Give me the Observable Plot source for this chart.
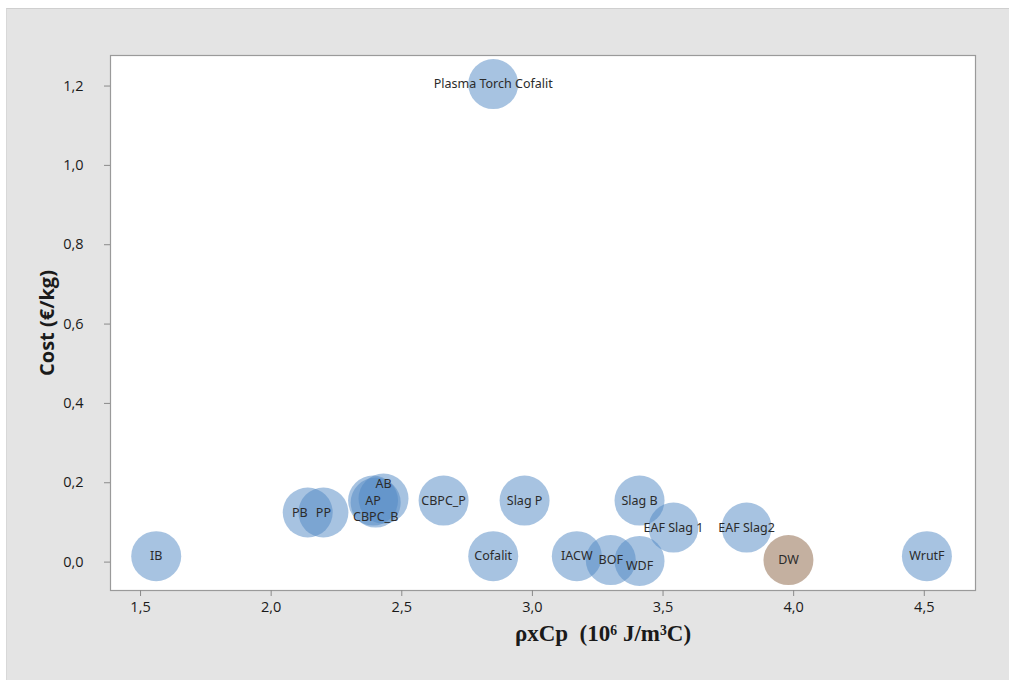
<!DOCTYPE html>
<html>
<head>
<meta charset="utf-8">
<script src="https://cdn.jsdelivr.net/npm/d3@7"></script>
<script src="https://cdn.jsdelivr.net/npm/@observablehq/plot@0.6"></script>
<style>
  html, body { margin: 0; padding: 0; background: #ffffff; }
  #page { position: absolute; left: 0; top: 0; width: 1009px; height: 680px; overflow: hidden; }
  #bg { position: absolute; left: 6px; top: 8px; right: 0; bottom: 0; background: #e4e4e4; border-top: 1px solid #cfcfcf; border-left: 1px solid #d8d8d8; }
  #chart { position: absolute; left: 0; top: 0; }
</style>
</head>
<body>
<div id="page"><div id="bg"></div><div id="chart"></div></div>
<script>
// ---- data ----
const names = ["IB","PB","PP","AP","AB","CBPC_B","CBPC_P","Cofalit","Slag P","IACW","BOF","WDF","Slag B","EAF Slag 1","EAF Slag2","DW","WrutF","Plasma Torch Cofalit"];
const heatCapacity = [1.56, 2.14, 2.20, 2.39, 2.43, 2.40, 2.66, 2.85, 2.97, 3.17, 3.30, 3.41, 3.41, 3.54, 3.82, 3.98, 4.51, 2.85];
const cost = [0.015, 0.125, 0.125, 0.155, 0.16, 0.15, 0.155, 0.015, 0.155, 0.015, 0.005, 0.003, 0.155, 0.087, 0.087, 0.005, 0.015, 1.205];
const highlighted = ["DW"];
const xTicks = [1.5, 2.0, 2.5, 3.0, 3.5, 4.0, 4.5];
const yTicks = [0, 0.2, 0.4, 0.6, 0.8, 1.0, 1.2];
const xLabel = "ρxCp\u00a0 (10⁶ J/m³C)";
const yLabel = "Cost (€/kg)";

const data = names.map((n, i) => ({ name: n, x: heatCapacity[i], y: cost[i] }));
const fmt = d => d.toFixed(1).replace(".", ",");
const labelFont = "'Noto Sans', 'Open Sans', sans-serif";
const above = ["AB"], below = ["CBPC_B"], slightlyBelow = ["WDF"], leftShift = ["PB"];
const special = [...above, ...below, ...slightlyBelow, ...leftShift];
const plain = data.filter(d => !special.includes(d.name));

const textOpts = { x: "x", y: "y", text: "name", fontSize: 12.5, fill: "#2b2b2b", fontFamily: labelFont };

const chart = Plot.plot({
  width: 1009,
  height: 680,
  marginLeft: 110,
  marginRight: 34,
  marginTop: 55,
  marginBottom: 90,
  style: { background: "transparent", overflow: "visible" },
  x: { domain: [1.385, 4.696] },
  y: { domain: [-0.0716, 1.277] },
  marks: [
    Plot.frame({ fill: "white", stroke: null }),
    Plot.dot(data, {
      x: "x", y: "y", r: 25,
      fill: d => highlighted.includes(d.name) ? "#8a6242" : "#4f87c4",
      fillOpacity: 0.5, stroke: null
    }),
    Plot.text(plain, textOpts),
    Plot.text(data.filter(d => above.includes(d.name)), { ...textOpts, dy: -15 }),
    Plot.text(data.filter(d => below.includes(d.name)), { ...textOpts, dy: 14 }),
    Plot.text(data.filter(d => slightlyBelow.includes(d.name)), { ...textOpts, dy: 5 }),
    Plot.text(data.filter(d => leftShift.includes(d.name)), { ...textOpts, dx: -8 }),
    Plot.frame({ stroke: "#9a9a9a", strokeWidth: 1.2 }),
    Plot.axisX({ ticks: xTicks, tickFormat: fmt, tickSize: 6, tickPadding: 5, stroke: "#8a8a8a", fill: "#1a1a1a",
                 fontSize: 14.5, fontFamily: "'Open Sans', sans-serif", label: null }),
    Plot.axisY({ ticks: yTicks, tickFormat: fmt, tickSize: 6, tickPadding: 21, stroke: "#8a8a8a", fill: "#1a1a1a",
                 fontSize: 14.5, fontFamily: "'Open Sans', sans-serif", label: null }),
    Plot.text([yLabel], { frameAnchor: "left", dx: -63, rotate: -90, textAnchor: "middle", fontSize: 20, fontWeight: "bold",
                          fill: "#1a1a1a", fontFamily: "'Open Sans', sans-serif" }),
    Plot.text([xLabel], { frameAnchor: "bottom", dx: 60, dy: 50, fontSize: 23, fontWeight: "bold",
                          fill: "#1a1a1a", fontFamily: "'Liberation Serif', 'DejaVu Serif', serif" })
  ]
});
document.getElementById("chart").appendChild(chart);
</script>
</body>
</html>
